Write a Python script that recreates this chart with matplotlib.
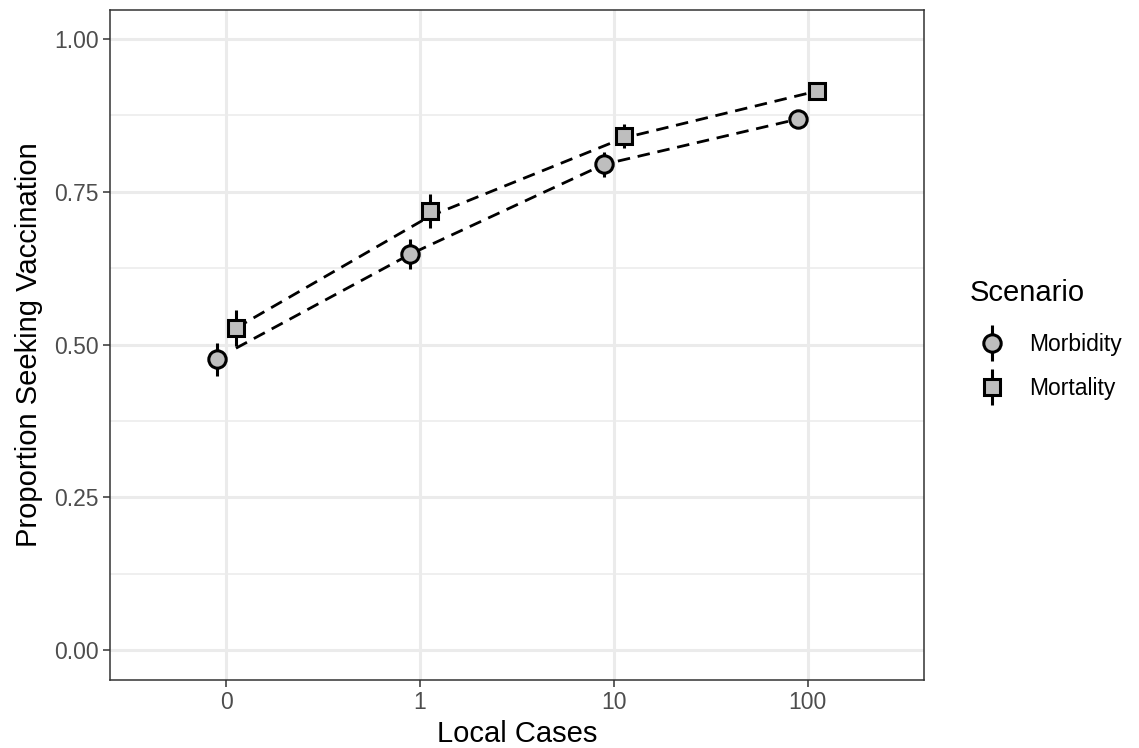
import matplotlib
matplotlib.use('Agg')
import matplotlib.pyplot as plt
from matplotlib.lines import Line2D
from matplotlib.legend_handler import HandlerTuple

# data
categories = ['0', '1', '10', '100']
morbidity = [0.476, 0.648, 0.795, 0.869]
morbidity_err = [0.027, 0.025, 0.020, 0.012]
mortality = [0.527, 0.718, 0.841, 0.915]
mortality_err = [0.030, 0.028, 0.020, 0.014]
# dashed model lines
morbidity_fit = [0.494, 0.648, 0.795, 0.869]
mortality_fit = [0.527, 0.710, 0.838, 0.915]

plt.rcParams['font.family'] = ['Liberation Sans', 'DejaVu Sans']

fig = plt.figure(figsize=(11.39, 7.48), dpi=100)
ax = fig.add_axes([110 / 1139, 68 / 748, 814 / 1139, 670 / 748])

xs = list(range(len(categories)))
dodge = 0.05
x_morb = [x - dodge for x in xs]
x_mort = [x + dodge for x in xs]

# lines (lower one starts at the dodged position of category 0)
ax.plot([x_mort[0]] + x_morb[1:], morbidity_fit, ls=(0, (4.5, 2.8)), color='black', lw=2.0, zorder=2)
ax.plot(x_mort, mortality_fit, ls=(0, (4.5, 2.8)), color='black', lw=2.0, zorder=2)

ax.errorbar(x_morb, morbidity, yerr=morbidity_err, fmt='o', ms=12.5, mfc='#BEBEBE',
            mec='black', mew=2.2, ecolor='black', elinewidth=2.2, capsize=0, zorder=3)
ax.errorbar(x_mort, mortality, yerr=mortality_err, fmt='s', ms=11.5, mfc='#BEBEBE',
            mec='black', mew=2.2, ecolor='black', elinewidth=2.2, capsize=0, zorder=3)

ax.set_xlim(-0.6, 3.6)
ax.set_ylim(-0.049, 1.0475)
ax.set_xticks(xs)
ax.set_xticklabels(categories)
ax.set_yticks([0, 0.25, 0.5, 0.75, 1.0])
ax.set_yticklabels(['0.00', '0.25', '0.50', '0.75', '1.00'])
ax.set_yticks([0.125, 0.375, 0.625, 0.875], minor=True)

ax.grid(True, which='major', color='#EBEBEB', lw=2.2, zorder=0)
ax.grid(True, which='minor', axis='y', color='#EBEBEB', lw=1.1, zorder=0)
ax.set_axisbelow(True)
for s in ax.spines.values():
    s.set_color('#333333')
    s.set_linewidth(1.1)
ax.tick_params(which='major', length=5, width=1.1, color='#333333', labelcolor='#4D4D4D',
               labelsize=16.5, pad=3)
ax.tick_params(which='minor', length=0)

ax.set_xlabel('Local Cases', fontsize=21, labelpad=4)
ax.set_ylabel('Proportion Seeking Vaccination', fontsize=21, labelpad=8)

# legend keys: vertical bar through the marker
bar = dict(marker='|', ms=26, mew=2.2, color='black', ls='')
key_morb = (Line2D([], [], **bar),
            Line2D([], [], marker='o', ms=12.5, mfc='#BEBEBE', mec='black', mew=2.2, ls=''))
key_mort = (Line2D([], [], **bar),
            Line2D([], [], marker='s', ms=11.5, mfc='#BEBEBE', mec='black', mew=2.2, ls=''))

fig.text(970 / 1139, 1 - 293 / 748, 'Scenario', fontsize=21, va='center', ha='left')
fig.legend(handles=[key_morb, key_mort], labels=['Morbidity', 'Mortality'],
           handler_map={tuple: HandlerTuple(ndivide=1)},
           loc='center left', bbox_to_anchor=(958 / 1139, 1 - 366.5 / 748), frameon=False,
           fontsize=16.5, handlelength=1.2, handletextpad=1.0, labelspacing=0.9)

fig.savefig('out.png', dpi=100)
